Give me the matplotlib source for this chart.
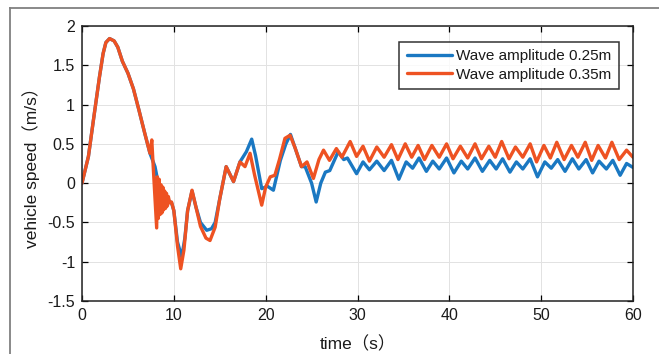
import matplotlib
matplotlib.use("Agg")
import matplotlib.pyplot as plt
from matplotlib.lines import Line2D

plt.rcParams['axes.unicode_minus'] = False
plt.rcParams['font.family'] = ['Liberation Sans', 'Noto Sans CJK SC', 'DejaVu Sans']

t_common = [0, 0.7, 1.3, 1.9, 2.3, 2.6, 3.0, 3.5, 3.9, 4.4, 5.0, 5.6, 6.2, 6.8, 7.4]
v_common = [0, 0.34, 0.85, 1.35, 1.65, 1.79, 1.84, 1.81, 1.73, 1.55, 1.40, 1.20, 0.93, 0.65, 0.38]

t_blue = [7.95, 8.3, 8.6, 9.0, 9.4, 9.75, 10.0, 10.4, 10.86, 11.2, 11.5, 11.98, 12.4, 12.9,
          13.58, 14.1, 14.5, 15.0, 15.7, 16.5, 17.2, 17.9, 18.48, 18.9, 19.57, 20.2, 20.84,
          21.6, 22.2, 22.7, 23.2, 23.9, 24.3, 25.0, 25.5, 26.0, 26.5, 26.98, 27.9,
          28.5, 28.9, 29.9, 30.6, 31.3, 32.1, 32.9, 33.7, 34.5, 35.3, 36.0, 36.7, 37.5,
          38.2, 38.9, 39.7, 40.5, 41.3, 42.0, 42.8, 43.6, 44.4, 45.1, 45.8, 46.6, 47.3,
          48.0, 48.8, 49.6, 50.4, 51.1, 51.8, 52.6, 53.4, 54.1, 54.9, 55.6, 56.3, 57.1,
          57.8, 58.6, 59.3, 60.0]
v_blue = [0.21, 0.0, -0.1, -0.17, -0.22, -0.25, -0.35, -0.75, -0.94, -0.7, -0.35, -0.1, -0.3, -0.5,
          -0.60, -0.58, -0.5, -0.2, 0.21, 0.02, 0.27, 0.40, 0.56, 0.35, -0.07, -0.04, -0.09,
          0.29, 0.50, 0.62, 0.45, 0.21, 0.21, 0.0, -0.24, 0.0, 0.14, 0.16, 0.40,
          0.30, 0.32, 0.12, 0.27, 0.17, 0.28, 0.16, 0.29, 0.05, 0.27, 0.19, 0.32, 0.15,
          0.28, 0.18, 0.32, 0.13, 0.28, 0.18, 0.32, 0.15, 0.29, 0.18, 0.31, 0.14, 0.27,
          0.18, 0.31, 0.08, 0.27, 0.19, 0.30, 0.15, 0.31, 0.18, 0.30, 0.13, 0.28, 0.18,
          0.29, 0.10, 0.25, 0.20]

t_red = [7.6, 7.75, 8.13, 8.2, 8.3, 8.4, 8.5, 8.6, 8.7, 8.8, 8.9, 9.0, 9.1, 9.2, 9.3, 9.4, 9.55,
         9.75, 10.0, 10.4, 10.75, 11.1, 11.5, 11.98, 12.4, 12.9, 13.5, 13.94, 14.5, 15.0, 15.7,
         16.5, 17.2, 17.75, 18.3, 18.8, 19.57, 20.0, 20.5, 21.0, 21.5, 22.1, 22.66, 23.2,
         23.9, 24.5, 25.2, 25.8, 26.3, 26.95, 27.7,
         28.3, 29.2, 29.9, 30.6, 31.3, 32.1, 32.9, 33.7, 34.4, 35.2, 35.9, 36.6, 37.3, 38.1,
         38.9, 39.7, 40.4, 41.2, 42.0, 42.8, 43.5, 44.3, 45.0, 45.7, 46.5, 47.2, 48.0, 48.8,
         49.5, 50.3, 51.0, 51.7, 52.5, 53.3, 54.0, 54.8, 55.5, 56.2, 57.0, 57.7, 58.5, 59.3, 60.0]
v_red = [0.55, 0.22, -0.57, 0.08, -0.45, 0.05, -0.40, -0.02, -0.38, -0.05, -0.34, -0.10, -0.32,
         -0.13, -0.29, -0.17, -0.25,
         -0.24, -0.35, -0.8, -1.09, -0.85, -0.35, -0.09, -0.3, -0.55, -0.70, -0.73, -0.56, -0.2, 0.21,
         0.02, 0.27, 0.21, 0.38, 0.1, -0.28, -0.05, 0.08, 0.1, 0.3, 0.57, 0.61, 0.45,
         0.21, 0.27, 0.06, 0.3, 0.42, 0.29, 0.44,
         0.33, 0.53, 0.34, 0.47, 0.28, 0.46, 0.33, 0.49, 0.30, 0.50, 0.33, 0.48, 0.30, 0.48,
         0.33, 0.50, 0.31, 0.47, 0.32, 0.50, 0.31, 0.47, 0.33, 0.53, 0.31, 0.46, 0.33, 0.50,
         0.27, 0.48, 0.32, 0.52, 0.30, 0.48, 0.33, 0.52, 0.29, 0.48, 0.32, 0.52, 0.30, 0.42, 0.33]

xticks = [0, 10, 20, 30, 40, 50, 60]
yticks = [-1.5, -1, -0.5, 0, 0.5, 1, 1.5, 2]
ytick_labels = ['-1.5', '-1', '-0.5', '0', '0.5', '1', '1.5', '2']
labels = ['Wave amplitude 0.25m', 'Wave amplitude 0.35m']

BLUE = '#1A78C2'
RED = '#EE5222'

fig = plt.figure(figsize=(6.59, 3.54), dpi=100)
ax = fig.add_axes([82/659, 1-301/354, (633-82)/659, (301-26)/354])

# figure frame (partial, like the scanned reference)
fig.add_artist(Line2D([10/659, 10/659], [0, 1-8/354], transform=fig.transFigure, color='#808080', lw=1.3))
fig.add_artist(Line2D([10/659, 1], [1-8/354, 1-8/354], transform=fig.transFigure, color='#808080', lw=1.3))

tb = t_common + t_blue
vb = v_common + v_blue
tr = t_common + t_red
vr = v_common + v_red
ax.plot(tb, vb, color=BLUE, lw=2.4, label=labels[0], solid_joinstyle='round', solid_capstyle='round')
ax.plot(tr, vr, color=RED, lw=2.4, label=labels[1], solid_joinstyle='round', solid_capstyle='round')

ax.set_xlim(0, 60)
ax.set_ylim(-1.5, 2)
ax.set_xticks(xticks)
ax.set_yticks(yticks)
ax.set_yticklabels(ytick_labels)
ax.tick_params(direction='in', top=True, right=True, labelsize=11.5, length=4, width=0.9, pad=5,
               labelcolor='#1a1a1a')
ax.grid(True, color='#e2e2e2', lw=0.7)
for s in ax.spines.values():
    s.set_linewidth(1.1)
    s.set_color('#222222')

ax.set_xlabel('time（s）', fontsize=12.5, labelpad=9, color='#1a1a1a')
ax.set_ylabel('vehicle speed（m/s）', fontsize=12.5, labelpad=5, color='#1a1a1a')

leg = ax.legend(loc='upper right', bbox_to_anchor=(0.983, 0.96), fontsize=11, frameon=True,
                fancybox=False, edgecolor='black', handlelength=3.0, handletextpad=0.25,
                borderpad=0.5, labelspacing=0.3, borderaxespad=0.3)
leg.get_frame().set_linewidth(1.1)
for t in leg.get_texts():
    t.set_color('#1a1a1a')

fig.savefig('out.png', dpi=100)
